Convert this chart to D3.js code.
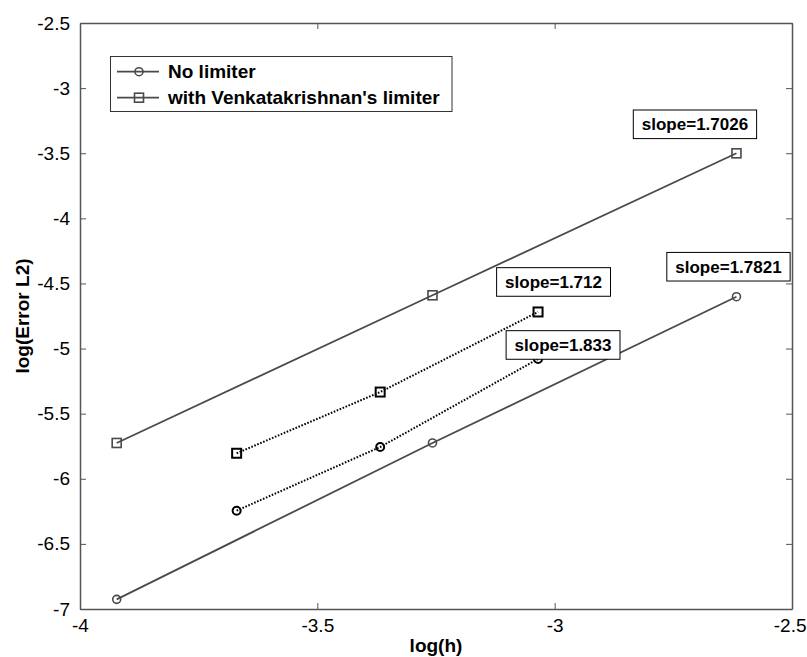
<!DOCTYPE html>
<html><head><meta charset="utf-8">
<script src="https://cdn.jsdelivr.net/npm/d3@7"></script>
<style>body{margin:0;background:#fff}svg{display:block}text{font-family:"Liberation Sans",Arial,sans-serif}</style>
</head><body><svg id="c" width="807" height="657"></svg>
<script>
// ---- data ----
const loghFine = [-3.9227, -3.2574, -2.6170];
const noLimiter = [-6.926, -5.725, -4.602];
const venkatLimiter = [-5.725, -4.591, -3.5006];
const loghDotted = [-3.670, -3.3676, -3.035];
const noLimiterDotted = [-6.245, -5.756, -5.080];
const venkatDotted = [-5.804, -5.334, -4.719];
const xTicks = [-4, -3.5, -3, -2.5];
const yTicks = [-7, -6.5, -6, -5.5, -5, -4.5, -4, -3.5, -3, -2.5];
const legendLabels = ["No limiter", "with Venkatakrishnan's limiter"];
const slopeLabels = ["slope=1.7026", "slope=1.7821", "slope=1.712", "slope=1.833"];

const svg = d3.select("#c");
const m = {l:80, t:23, r:15, b:48};
const W = 807 - m.l - m.r, H = 657 - m.t - m.b;
const x = d3.scaleLinear().domain([-4, -2.5]).range([m.l, m.l + W]);
const y = d3.scaleLinear().domain([-7, -2.5]).range([m.t + H, m.t]);
const axisCol = "#555", lineCol = "#4a4a4a";

// axes (MATLAB box style, inward ticks)
const fmt = d => String(d);
svg.append("g").attr("transform", `translate(0,${m.t+H})`)
  .call(d3.axisBottom(x).tickValues(xTicks).tickFormat(fmt).tickSizeInner(-6).tickSizeOuter(0).tickPadding(10))
  .call(g => { g.select(".domain").attr("stroke", axisCol).attr("stroke-width", 1.5);
    g.selectAll(".tick line").attr("stroke", axisCol);
    g.selectAll("text").attr("font-size", 19).attr("fill", "#000");
    // keep the last label inside the window, as in the reference
    g.selectAll(".tick").filter(d => d === -2.5).select("text").attr("text-anchor", "end").attr("x", 14); });
svg.append("g").attr("transform", `translate(0,${m.t})`)
  .call(d3.axisTop(x).tickValues(xTicks).tickFormat("").tickSizeInner(-6).tickSizeOuter(0))
  .call(g => { g.select(".domain").attr("stroke", axisCol).attr("stroke-width", 1.5);
    g.selectAll(".tick line").attr("stroke", axisCol); });
svg.append("g").attr("transform", `translate(${m.l},0)`)
  .call(d3.axisLeft(y).tickValues(yTicks).tickFormat(fmt).tickSizeInner(-6).tickSizeOuter(0).tickPadding(10))
  .call(g => { g.select(".domain").attr("stroke", axisCol).attr("stroke-width", 1.5);
    g.selectAll(".tick line").attr("stroke", axisCol);
    g.selectAll("text").attr("font-size", 19).attr("fill", "#000"); });
svg.append("g").attr("transform", `translate(${m.l+W},0)`)
  .call(d3.axisRight(y).tickValues(yTicks).tickFormat("").tickSizeInner(-6).tickSizeOuter(0))
  .call(g => { g.select(".domain").attr("stroke", axisCol).attr("stroke-width", 1.5);
    g.selectAll(".tick line").attr("stroke", axisCol); });

// axis titles
svg.append("text").attr("x", x(-3.25)).attr("y", 652).attr("text-anchor", "middle")
  .attr("font-size", 19).attr("font-weight", "bold").text("log(h)");
svg.append("text").attr("transform", `translate(29,${y(-4.75)}) rotate(-90)`).attr("text-anchor", "middle")
  .attr("font-size", 19).attr("font-weight", "bold").text("log(Error L2)");

const line = d3.line().x(d => x(d[0])).y(d => y(d[1]));
function series(xs, ys, marker, color, dotted) {
  const pts = xs.map((v, i) => [v, ys[i]]);
  svg.append("path").attr("d", line(pts)).attr("fill", "none").attr("stroke", color)
    .attr("stroke-width", dotted ? 2 : 1.8).attr("stroke-dasharray", dotted ? "1.6,1.6" : null);
  const g = svg.append("g");
  pts.forEach(p => drawMarker(g, x(p[0]), y(p[1]), marker, color, dotted ? 2 : 1.6));
  return pts;
}
function drawMarker(g, cx, cy, marker, color, sw) {
  if (marker === "o") g.append("circle").attr("cx", cx).attr("cy", cy).attr("r", 4)
    .attr("fill", "none").attr("stroke", color).attr("stroke-width", sw);
  else g.append("rect").attr("x", cx - 4.5).attr("y", cy - 4.5).attr("width", 9).attr("height", 9)
    .attr("fill", "none").attr("stroke", color).attr("stroke-width", sw);
}

const pV = series(loghFine, venkatLimiter, "s", lineCol, false);
const pN = series(loghFine, noLimiter, "o", lineCol, false);
const pVd = series(loghDotted, venkatDotted, "s", "#000", true);
const pNd = series(loghDotted, noLimiterDotted, "o", "#000", true);

// slope annotation boxes, anchored to last point of each series
function annot(text, p, dx, dy) {
  const cx = x(p[0]) + dx, cy = y(p[1]) + dy;
  const t = svg.append("text").attr("x", cx).attr("y", cy + 6).attr("text-anchor", "middle")
    .attr("font-size", 17).attr("font-weight", "bold").text(text);
  const bb = t.node().getBBox();
  svg.insert("rect", () => t.node()).attr("x", bb.x - 8.5).attr("y", cy - 14.3)
    .attr("width", bb.width + 17).attr("height", 28.6).attr("fill", "#fff").attr("stroke", "#000").attr("stroke-width", 1);
}
annot(slopeLabels[0], pV[2], -41.5, -29);
annot(slopeLabels[1], pN[2], -8, -30);
annot(slopeLabels[2], pVd[2], 15.5, -30);
annot(slopeLabels[3], pNd[2], 25, -14);

// legend
const lg = svg.append("g");
lg.append("rect").attr("x", 110.5).attr("y", 56.5).attr("width", 341.5).attr("height", 55)
  .attr("fill", "#fff").attr("stroke", "#333").attr("stroke-width", 1);
legendLabels.forEach((lab, i) => {
  const ly = 71.7 + i * 26;
  lg.append("line").attr("x1", 117).attr("x2", 159).attr("y1", ly).attr("y2", ly).attr("stroke", lineCol).attr("stroke-width", 1.8);
  drawMarker(lg, 139, ly, i === 0 ? "o" : "s", lineCol, 1.6);
  lg.append("text").attr("x", 168).attr("y", ly + 6.5).attr("font-size", 19).attr("font-weight", "bold").text(lab);
});
</script></body></html>
